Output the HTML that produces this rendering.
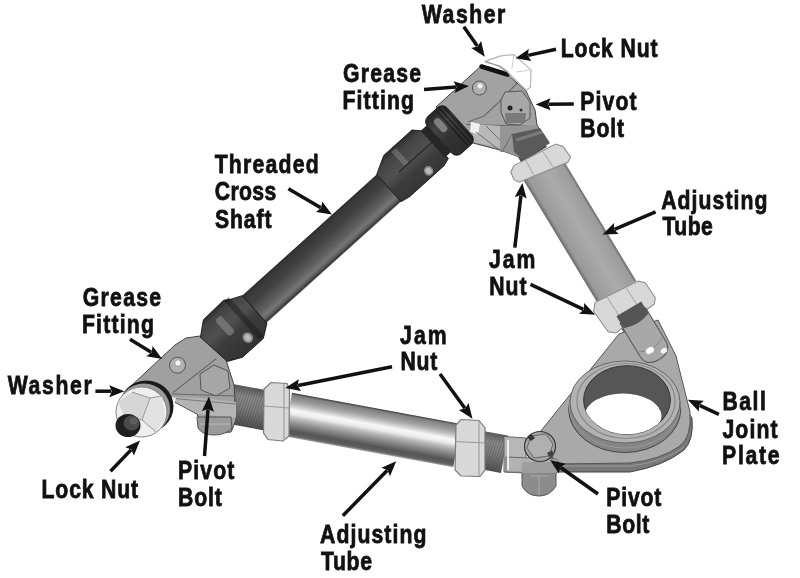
<!DOCTYPE html>
<html><head><meta charset="utf-8"><style>
html,body{margin:0;padding:0;background:#fff;width:800px;height:578px;overflow:hidden}
svg{display:block;filter:blur(0.45px)}
text{font-family:"Liberation Sans",sans-serif;font-weight:bold;font-size:26.5px;fill:#111;stroke:#111;stroke-width:0.8px;stroke-linejoin:miter}
</style></head><body>
<svg width="800" height="578" viewBox="0 0 800 578">
<rect width="800" height="578" fill="#fff"/>
<g id="parts">
<defs>
  <linearGradient id="gShaft" x1="0" y1="-17" x2="0" y2="19.5" gradientUnits="userSpaceOnUse">
    <stop offset="0" stop-color="#262626"/>
    <stop offset="0.06" stop-color="#363636"/>
    <stop offset="0.35" stop-color="#424242"/>
    <stop offset="0.65" stop-color="#5e5e5e"/>
    <stop offset="0.82" stop-color="#767676"/>
    <stop offset="0.92" stop-color="#555"/>
    <stop offset="0.97" stop-color="#333"/>
    <stop offset="1" stop-color="#888"/>
  </linearGradient>
  <linearGradient id="gSleeve" x1="0" y1="-28" x2="0" y2="29" gradientUnits="userSpaceOnUse">
    <stop offset="0" stop-color="#262626"/>
    <stop offset="0.15" stop-color="#444"/>
    <stop offset="0.4" stop-color="#505050"/>
    <stop offset="0.6" stop-color="#3c3c3c"/>
    <stop offset="1" stop-color="#333"/>
  </linearGradient>
  <linearGradient id="gCollar" x1="0" y1="-28" x2="0" y2="28" gradientUnits="userSpaceOnUse">
    <stop offset="0" stop-color="#222"/>
    <stop offset="0.3" stop-color="#444"/>
    <stop offset="0.55" stop-color="#333"/>
    <stop offset="1" stop-color="#2a2a2a"/>
  </linearGradient>
  <linearGradient id="gTube1" x1="0" y1="-22.3" x2="0" y2="22.3" gradientUnits="userSpaceOnUse">
    <stop offset="0" stop-color="#6a6a6a"/>
    <stop offset="0.07" stop-color="#9c9c9c"/>
    <stop offset="0.45" stop-color="#ababab"/>
    <stop offset="0.9" stop-color="#9a9a9a"/>
    <stop offset="1" stop-color="#6a6a6a"/>
  </linearGradient>
  <linearGradient id="gTube2" x1="0" y1="-22" x2="0" y2="22" gradientUnits="userSpaceOnUse">
    <stop offset="0" stop-color="#3a3a3a"/>
    <stop offset="0.05" stop-color="#808080"/>
    <stop offset="0.2" stop-color="#a4a4a4"/>
    <stop offset="0.3" stop-color="#d0d0d0"/>
    <stop offset="0.38" stop-color="#f8f8f8"/>
    <stop offset="0.47" stop-color="#ececec"/>
    <stop offset="0.56" stop-color="#bcbcbc"/>
    <stop offset="0.7" stop-color="#888"/>
    <stop offset="0.86" stop-color="#555"/>
    <stop offset="0.95" stop-color="#606060"/>
    <stop offset="1" stop-color="#a0a0a0"/>
  </linearGradient>
  <linearGradient id="gRod" x1="0" y1="-20" x2="0" y2="20" gradientUnits="userSpaceOnUse">
    <stop offset="0" stop-color="#5a5a5a"/>
    <stop offset="0.25" stop-color="#8a8a8a"/>
    <stop offset="0.55" stop-color="#7c7c7c"/>
    <stop offset="1" stop-color="#505050"/>
  </linearGradient>
  <pattern id="pThread" width="2.6" height="40" patternUnits="userSpaceOnUse" patternTransform="skewX(-8)">
    <rect x="0" width="1" height="40" fill="#000" opacity="0.18"/>
  </pattern>
</defs>
<!-- ===== upper adjusting tube (frame: origin 546.3,164.9 rot 58.7; +y = left side) ===== -->
<g transform="translate(541.8,167.5) rotate(58.9)">
  <rect x="-45" y="-15" width="30" height="30" fill="#4e4e4e"/>
  <rect x="0" y="-22.3" width="146" height="44.6" fill="url(#gTube1)"/>
  <path d="M-16,23 L-13,-24 L-7,-29 L6,-30 L9,-25 L1,27 L-4,30 L-12,29 Z" fill="#d8d8d8" stroke="#8a8a8a" stroke-width="1"/>
  <path d="M-14.5,-9 L7,-10 M-15.5,10 L4,11" stroke="#a8a8a8" stroke-width="1"/>
  <rect x="170" y="-15" width="22" height="30" fill="#555"/>
  <path d="M143,24 L147,-24 L152,-29 L170,-30 L175,-26 L180,22 L175,28 L150,30 Z" fill="#d8d8d8" stroke="#8a8a8a" stroke-width="1"/>
  <path d="M145,-10 L176,-11 M144,11 L178,10" stroke="#a8a8a8" stroke-width="1"/>
</g>

<!-- ===== lower adjusting tube (frame origin 288,414.5 rot 10) ===== -->
<g transform="translate(288,414.5) rotate(10.4)">
  <rect x="-60" y="-20" width="38" height="40" fill="url(#gRod)"/>
  <rect x="-60" y="-20" width="38" height="40" fill="url(#pThread)"/>
  <rect x="196" y="-19" width="24" height="38" fill="url(#gRod)"/>
  <rect x="196" y="-19" width="24" height="38" fill="url(#pThread)"/>
  <rect x="0" y="-22" width="172" height="44" fill="url(#gTube2)"/>
</g>
<path d="M264,389 L271,382.5 L287,383.5 L289.5,390 L289,436 L283,441 L268,439.5 L263.5,433 Z" fill="#d9d9d9" stroke="#7a7a7a" stroke-width="1.2"/>
<path d="M264,406 L289,408 M284,384 L284,440" stroke="#9a9a9a" stroke-width="1.1" fill="none"/>
<path d="M456,425 L461,419.5 L479,420.5 L485,428 L485,470 L480,476.5 L461,476 L455,470 Z" fill="#d9d9d9" stroke="#7a7a7a" stroke-width="1.2"/>
<path d="M455,441.5 L485,443 M479,421 L479,476" stroke="#9a9a9a" stroke-width="1.1" fill="none"/>

<!-- ===== top block (image coords) ===== -->
<path d="M481,66 L507,74 L526,91 L535,110 L537,125 L548,142 L522,158 L500,150 L473,143 L455,132 L436,107 Z" fill="#a2a2a2" stroke="#444" stroke-width="1"/>
<path d="M521,79 L498,103 L484,116 L468,122 M466,124.5 L537,126.5" stroke="#6a6a6a" stroke-width="1.1" fill="none"/>
<path d="M473,124 L500,126 L500,148 L473,142 Z" fill="#b8b8b8"/>
<path d="M471,122 L480,124 L478,134 L470,132 Z" fill="#f0f0f0"/>
<path d="M500,126 L537,126 L548,142 L522,158 L500,150 Z" fill="#959595"/>
<path d="M512,134 L540,128 L550,143 L524,160 L514,152 Z" fill="#5a5a5a"/>
<path d="M516,140 L542,132" stroke="#7a7a7a" stroke-width="3"/>
<path d="M476,132 L502,152 L512,134 M486,126 L500,140" stroke="#6e6e6e" stroke-width="1" fill="none"/>

<!-- ===== left block (image coords) ===== -->
<path d="M131,386 L175,345 L186,338 L200,336 L226,360 L234,385 L236,420 L231,432 L205,434 L197,414 L165,397 Z" fill="#a0a0a0" stroke="#444" stroke-width="1"/>
<path d="M216.5,358.5 L172.8,392.8 M172,394 L236,396" stroke="#6a6a6a" stroke-width="1.1" fill="none"/>
<path d="M166,397 L200,398 L236,402 L236,418 L198,414 Z" fill="#b4b4b4"/>
<path d="M168,398 L236,404" stroke="#7a7a7a" stroke-width="1.2"/>
<path d="M166,396 L176,398 L174,406 L165,403 Z" fill="#f2f2f2"/>
<path d="M197,417 L231,417 L232,428 Q226,435 214,435 Q202,435 198,428 Z" fill="#9a9a9a" stroke="#555" stroke-width="1"/>
<path d="M200,424 L230,424" stroke="#bbb" stroke-width="1"/>

<!-- ===== cross shaft (frame: origin 235,325 rot -42; +y = lower-right side) ===== -->
<g transform="translate(235,325) rotate(-42)">
  <rect x="18" y="-17" width="200" height="36.5" fill="url(#gShaft)"/>
  <path d="M-34,-14 L-20,-25 L8,-26 L14,-22 L25,-17 L25,20 L12,29 L-16,29 L-30,22 Z" fill="url(#gSleeve)" stroke="#111" stroke-width="0.8"/>
  <rect x="-12" y="-17" width="8" height="22" rx="3" fill="#8a8a8a" opacity="0.6"/>
  <rect x="8" y="-25" width="6" height="52" fill="#111" opacity="0.4"/>
  <ellipse cx="1" cy="18" rx="5" ry="5.5" fill="#8a8a8a"/>
  <ellipse cx="1" cy="18" rx="3" ry="3.5" fill="#bbb"/>
  <path d="M206,-17 L224,-26.5 L262,-26.5 L270,-18 L270,19 L262,21.5 L216,21.5 L206,19.5 Z" fill="url(#gSleeve)" stroke="#111" stroke-width="0.8"/>
  <path d="M224,-4 L270,-4" stroke="#222" stroke-width="1.2"/>
  <rect x="232" y="-24" width="6" height="19" fill="#888" opacity="0.5"/>
  <ellipse cx="247" cy="15" rx="4.5" ry="5" fill="#8a8a8a"/>
  <ellipse cx="247" cy="15" rx="2.8" ry="3.2" fill="#bbb"/>
  <rect x="268" y="-20" width="8" height="36" fill="#262626"/>
  <rect x="276" y="-26" width="27" height="50" rx="7" fill="url(#gCollar)" stroke="#111" stroke-width="0.8"/>
  <rect x="283" y="-19" width="7" height="16" rx="3" fill="#aaa" opacity="0.6"/>
  <path d="M293,-24 L293,22 M297,-25 L297,23 M301,-23 L301,21" stroke="#151515" stroke-width="1.3" opacity="0.8"/>
</g>

<!-- top grease fitting, bolt head, washer, lock nut -->
<circle cx="479.4" cy="88" r="7" fill="#b0b0b0" stroke="#555" stroke-width="1"/>
<circle cx="480" cy="86" r="2.5" fill="#f4f4f4"/>
<path d="M505,92 L522,91 L530,102 L530,118 L520,125 L506,124 L501,112 L501,100 Z" fill="#a8a8a8" stroke="#555" stroke-width="1"/>
<path d="M505,113 L526,113 L525,123 L506,123 Z" fill="#7a7a7a"/>
<circle cx="510" cy="108" r="2.5" fill="#222"/>
<circle cx="521" cy="110" r="1.5" fill="#333"/>
<path d="M481.5,66.5 L507.5,74.5" stroke="#111" stroke-width="4.5" stroke-linecap="round" fill="none"/>
<path d="M485.7,61.1 L500.6,55.9 L513.7,54.6 L531,69.9 L530.4,87.4 L526,90 L507.5,72 L498,66 Z" fill="#fff" stroke="#b4b4b4" stroke-width="1.2"/>
<path d="M485,62 L500,66 L508,72" stroke="#999" stroke-width="1.2" fill="none"/>
<path d="M513.7,54.6 L512,68 M531,69.9 L516,72" stroke="#d0d0d0" stroke-width="1" fill="none"/>

<!-- left grease fitting, bolt head -->
<circle cx="177.5" cy="365.2" r="8" fill="#b0b0b0" stroke="#555" stroke-width="1"/>
<circle cx="178" cy="363" r="2.5" fill="#f4f4f4"/>
<path d="M200,374 L214,365 L228,371 L230,388 L216,396 L201,390 Z" fill="#a6a6a6" stroke="#555" stroke-width="1"/>

<!-- left washer + lock nut -->
<ellipse cx="146.5" cy="406.5" rx="27" ry="26" fill="#1a1a1a"/>
<ellipse cx="144" cy="409" rx="26" ry="25.5" fill="#9a9a9a"/>
<ellipse cx="141.5" cy="412" rx="25.5" ry="25" fill="#efefef" stroke="#888" stroke-width="1"/>
<path d="M118,402 L132,392 L150,398 L142,420 L124,416 Z" fill="#d6d6d6"/>
<path d="M150,398 L162,396 L165,418 L156,432 L142,420 Z" fill="#e2e2e2"/>
<path d="M132,392 L150,398 L162,396 M150,398 L142,420 L156,432 M142,420 L124,416" stroke="#999" stroke-width="1" fill="none"/>
<ellipse cx="128" cy="425.5" rx="12.5" ry="11.5" fill="#1e1e1e"/>
<ellipse cx="131.5" cy="423" rx="8" ry="7.5" fill="#4a4a4a"/>
<ellipse cx="133.5" cy="421" rx="4" ry="3.5" fill="#5e5e5e"/>

<!-- ===== ball joint plate ===== -->
<path d="M540,432 L552,472 L630,472 Q664,466 684,450 Q694,440 692,418 L688,412 Q690,436 680,444 Q660,458 630,462 L556,463 Z" fill="#787878" stroke="#444" stroke-width="1"/>
<path d="M619,334 L658,320 L676,356 L690,412 Q692,436 680,446 Q660,460 630,463 L556,464 L540,432 Z" fill="#a9a9a9" stroke="#555" stroke-width="1"/>
<path d="M556,466 L630,466 Q664,462 684,447" stroke="#999" stroke-width="1" fill="none"/>
<g transform="translate(541.8,167.5) rotate(58.9)">
  <path d="M174,-16.5 L212,-16.5 Q225,-16.5 225,-1.5 Q225,13.5 212,13.5 L174,13.5 Z" fill="#a8a8a8" stroke="#555" stroke-width="1"/>
  <path d="M166,-16 L180,-16 Q186,-1.5 180,13 L166,13 Z" fill="#555"/>
  <path d="M208,-15 Q216,-1.5 208,12" stroke="#8a8a8a" stroke-width="1" fill="none"/>
  <ellipse cx="212.5" cy="2" rx="3" ry="4.5" fill="#fff"/>
  <ellipse cx="220" cy="-10" rx="2.5" ry="3.5" fill="#f4f4f4"/>
</g>
<ellipse cx="624.7" cy="409.5" rx="56" ry="43" fill="#858585" stroke="#444" stroke-width="1"/>
<ellipse cx="624.7" cy="406" rx="55.5" ry="42" fill="none" stroke="#999" stroke-width="1"/>
<ellipse cx="625" cy="402" rx="55" ry="41" fill="#b2b2b2" stroke="#666" stroke-width="1"/>
<ellipse cx="626" cy="401" rx="49" ry="37.5" fill="none" stroke="#888" stroke-width="1.2"/>
<ellipse cx="627" cy="400" rx="43.4" ry="34.3" fill="#565656" stroke="#333" stroke-width="1"/>
<clipPath id="cBore"><ellipse cx="627" cy="400" rx="43.4" ry="34.3"/></clipPath>
<ellipse cx="623" cy="416" rx="38.5" ry="22.5" fill="#fff" clip-path="url(#cBore)"/>

<!-- ===== right pivot ===== -->
<path d="M504,436.5 L526,438 L526,473 L504,472 Z" fill="#b8b8b8" stroke="#666" stroke-width="1"/>
<path d="M522,472 L556,472 L556,486 Q550,496 539,496 Q527,496 522,486 Z" fill="#8c8c8c" stroke="#555" stroke-width="1"/>
<path d="M530,476 L548,476 M539,476 L539,495" stroke="#aaa" stroke-width="1"/>
<path d="M506,457 L556,459 L562,466 L556,473 L506,472 Z" fill="#b2b2b2" stroke="#666" stroke-width="1"/>
<path d="M508,440 L508,470" stroke="#eee" stroke-width="2"/>
<path d="M522,462 L556,462 L556,473 L522,473 Z" fill="#9e9e9e"/>
<ellipse cx="540" cy="446.5" rx="15.5" ry="15" fill="#a4a4a4" stroke="#333" stroke-width="1.2"/>
<path d="M531,436 L546,434 L553,444 L549,456 L534,458 L527,448 Z" fill="#b0b0b0" stroke="#666" stroke-width="1"/>
<path d="M527,437 L531,434 L535,438 L531,441 Z" fill="#333"/>
<path d="M547,453 L552,450 L554,455 L549,457 Z" fill="#444"/>


</g><!--endparts-->

<g id="arrows">
<line x1="463.8" y1="26.8" x2="477.3" y2="46.1" stroke="#111" stroke-width="3.5"/>
<polygon points="484.8,56.8 471.2,47.9 477.6,46.5 481.1,41.0" fill="#111"/>
<line x1="556.0" y1="49.2" x2="528.2" y2="55.4" stroke="#111" stroke-width="3.5"/>
<polygon points="515.5,58.2 528.8,49.1 527.7,55.5 531.4,60.9" fill="#111"/>
<line x1="424.0" y1="89.5" x2="456.0" y2="87.0" stroke="#111" stroke-width="3.5"/>
<polygon points="469.0,86.0 454.5,93.1 456.5,87.0 453.6,81.2" fill="#111"/>
<line x1="573.8" y1="104.0" x2="548.6" y2="104.3" stroke="#111" stroke-width="3.5"/>
<polygon points="535.6,104.4 550.5,98.2 548.1,104.3 550.7,110.2" fill="#111"/>
<line x1="655.6" y1="211.9" x2="614.5" y2="229.3" stroke="#111" stroke-width="3.5"/>
<polygon points="602.5,234.4 614.0,223.0 614.0,229.5 618.7,234.1" fill="#111"/>
<line x1="288.4" y1="188.7" x2="320.8" y2="207.8" stroke="#111" stroke-width="3.5"/>
<polygon points="332.0,214.4 316.0,212.0 321.2,208.1 322.1,201.6" fill="#111"/>
<line x1="514.8" y1="247.6" x2="520.9" y2="195.8" stroke="#111" stroke-width="3.5"/>
<polygon points="522.4,182.9 526.6,198.5 520.9,195.3 514.7,197.1" fill="#111"/>
<line x1="530.5" y1="284.3" x2="583.4" y2="309.3" stroke="#111" stroke-width="3.5"/>
<polygon points="595.2,314.8 579.1,313.8 583.9,309.5 584.2,303.0" fill="#111"/>
<line x1="392.0" y1="366.8" x2="298.0" y2="385.5" stroke="#111" stroke-width="3.5"/>
<polygon points="285.2,388.0 298.8,379.2 297.5,385.6 301.1,391.0" fill="#111"/>
<line x1="440.0" y1="374.0" x2="464.9" y2="408.2" stroke="#111" stroke-width="3.5"/>
<polygon points="472.5,418.8 458.8,410.1 465.2,408.6 468.5,403.1" fill="#111"/>
<line x1="130.0" y1="339.3" x2="151.2" y2="352.2" stroke="#111" stroke-width="3.5"/>
<polygon points="162.2,359.0 146.3,356.3 151.6,352.5 152.6,346.1" fill="#111"/>
<line x1="95.4" y1="391.2" x2="111.3" y2="391.2" stroke="#111" stroke-width="3.5"/>
<polygon points="124.3,391.2 109.3,397.2 111.8,391.2 109.3,385.2" fill="#111"/>
<line x1="110.5" y1="471.2" x2="131.0" y2="449.9" stroke="#111" stroke-width="3.5"/>
<polygon points="140.0,440.5 133.9,455.5 131.3,449.5 125.3,447.2" fill="#111"/>
<line x1="204.5" y1="456.0" x2="208.0" y2="409.4" stroke="#111" stroke-width="3.5"/>
<polygon points="209.0,396.4 213.9,411.8 208.1,408.9 201.9,410.9" fill="#111"/>
<line x1="342.8" y1="515.8" x2="387.1" y2="470.5" stroke="#111" stroke-width="3.5"/>
<polygon points="396.2,461.2 390.0,476.2 387.5,470.2 381.5,467.8" fill="#111"/>
<line x1="718.9" y1="414.4" x2="699.6" y2="405.3" stroke="#111" stroke-width="3.5"/>
<polygon points="687.8,399.8 703.9,400.7 699.1,405.1 698.8,411.6" fill="#111"/>
<line x1="598.0" y1="494.0" x2="560.6" y2="467.5" stroke="#111" stroke-width="3.5"/>
<polygon points="550.0,460.0 565.7,463.8 560.2,467.2 558.8,473.6" fill="#111"/>
</g>
<g id="labels">
<text transform="translate(421.74,23.00) scale(0.8,1)" x="0" y="0" textLength="104.53" lengthAdjust="spacing">Washer</text>
<text transform="translate(560.72,56.70) scale(0.8,1)" x="0" y="0" textLength="121.12" lengthAdjust="spacing">Lock&#160;Nut</text>
<text transform="translate(343.10,81.90) scale(0.8,1)" x="0" y="0" textLength="97.38" lengthAdjust="spacing">Grease</text>
<text transform="translate(342.60,109.40) scale(0.8,1)" x="0" y="0" textLength="89.12" lengthAdjust="spacing">Fitting</text>
<text transform="translate(580.34,110.00) scale(0.8,1)" x="0" y="0" textLength="70.20" lengthAdjust="spacing">Pivot</text>
<text transform="translate(580.34,136.90) scale(0.8,1)" x="0" y="0" textLength="54.58" lengthAdjust="spacing">Bolt</text>
<text transform="translate(661.24,208.90) scale(0.8,1)" x="0" y="0" textLength="132.85" lengthAdjust="spacing">Adjusting</text>
<text transform="translate(662.62,235.20) scale(0.8,1)" x="0" y="0" textLength="62.67" lengthAdjust="spacing">Tube</text>
<text transform="translate(214.64,173.25) scale(0.8,1)" x="0" y="0" textLength="130.03" lengthAdjust="spacing">Threaded</text>
<text transform="translate(214.74,200.40) scale(0.8,1)" x="0" y="0" textLength="76.90" lengthAdjust="spacing">Cross</text>
<text transform="translate(215.00,227.50) scale(0.8,1)" x="0" y="0" textLength="70.62" lengthAdjust="spacing">Shaft</text>
<text transform="translate(489.00,268.00) scale(0.8,1)" x="0" y="0" textLength="57.85" lengthAdjust="spacing">Jam</text>
<text transform="translate(489.22,295.00) scale(0.8,1)" x="0" y="0" textLength="46.60" lengthAdjust="spacing">Nut</text>
<text transform="translate(400.12,343.50) scale(0.8,1)" x="0" y="0" textLength="58.15" lengthAdjust="spacing">Jam</text>
<text transform="translate(400.48,370.00) scale(0.8,1)" x="0" y="0" textLength="46.10" lengthAdjust="spacing">Nut</text>
<text transform="translate(82.86,305.60) scale(0.8,1)" x="0" y="0" textLength="97.68" lengthAdjust="spacing">Grease</text>
<text transform="translate(81.96,333.00) scale(0.8,1)" x="0" y="0" textLength="89.93" lengthAdjust="spacing">Fitting</text>
<text transform="translate(7.74,394.10) scale(0.8,1)" x="0" y="0" textLength="105.00" lengthAdjust="spacing">Washer</text>
<text transform="translate(41.60,497.50) scale(0.8,1)" x="0" y="0" textLength="120.50" lengthAdjust="spacing">Lock&#160;Nut</text>
<text transform="translate(178.10,479.40) scale(0.8,1)" x="0" y="0" textLength="70.17" lengthAdjust="spacing">Pivot</text>
<text transform="translate(178.10,505.70) scale(0.8,1)" x="0" y="0" textLength="54.55" lengthAdjust="spacing">Bolt</text>
<text transform="translate(320.00,542.75) scale(0.8,1)" x="0" y="0" textLength="133.00" lengthAdjust="spacing">Adjusting</text>
<text transform="translate(321.00,569.75) scale(0.8,1)" x="0" y="0" textLength="63.75" lengthAdjust="spacing">Tube</text>
<text transform="translate(722.46,410.25) scale(0.8,1)" x="0" y="0" textLength="54.15" lengthAdjust="spacing">Ball</text>
<text transform="translate(722.50,438.30) scale(0.8,1)" x="0" y="0" textLength="68.75" lengthAdjust="spacing">Joint</text>
<text transform="translate(722.10,463.90) scale(0.8,1)" x="0" y="0" textLength="71.92" lengthAdjust="spacing">Plate</text>
<text transform="translate(606.22,506.00) scale(0.8,1)" x="0" y="0" textLength="68.95" lengthAdjust="spacing">Pivot</text>
<text transform="translate(606.22,533.25) scale(0.8,1)" x="0" y="0" textLength="53.95" lengthAdjust="spacing">Bolt</text>
</g>
</svg>
</body></html>
